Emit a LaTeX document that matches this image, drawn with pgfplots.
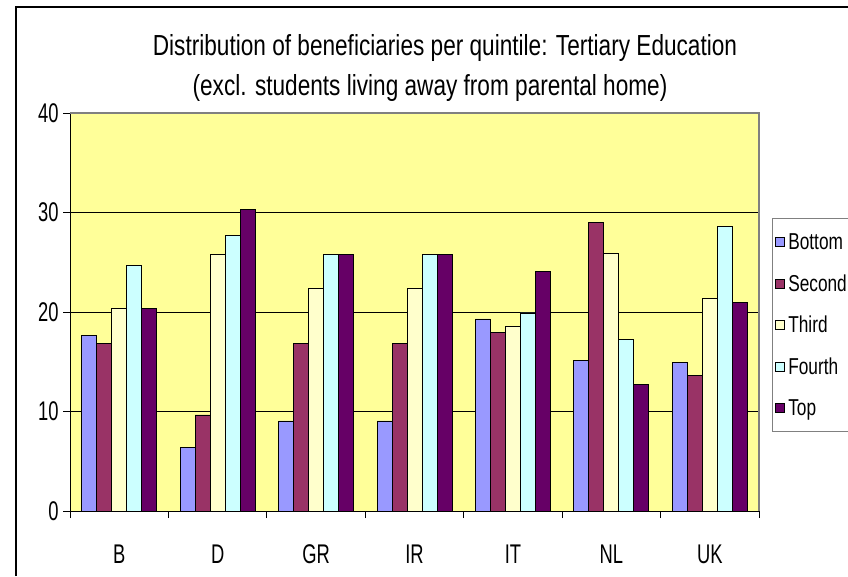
\documentclass[border=0pt]{standalone}
\usepackage{pgfplots}
\pgfplotsset{compat=1.18}
\usepackage{fontspec}
\setmainfont{Liberation Sans}
\newfontfamily\tickfont{Liberation Sans}[FakeStretch=0.68]
\newfontfamily\titlefont{Liberation Sans}[FakeStretch=0.78]
\newfontfamily\legfont{Liberation Sans}[FakeStretch=0.75]
\definecolor{cBottom}{HTML}{9999FF}
\definecolor{cSecond}{HTML}{993366}
\definecolor{cThird}{HTML}{FFFFCC}
\definecolor{cFourth}{HTML}{CCFFFF}
\definecolor{cTop}{HTML}{660066}
\definecolor{plotbg}{HTML}{FFFF99}
\begin{document}
\begin{tikzpicture}[x=1pt,y=1pt]
\useasboundingbox (0,0) rectangle (848,576);
\draw[black, line width=1.2pt] (16,0) -- (16,569) -- (860,569);
\begin{axis}[
  at={(70pt,65pt)}, anchor=south west,
  scale only axis, width=689pt, height=398pt,
  ybar=0pt, bar width=15pt,
  xmin=-0.5, xmax=6.5, ymin=0, ymax=40,
  axis x line=bottom, axis y line=left,
  axis line style={-, black, line width=1pt},
  axis background/.style={fill=plotbg},
  /pgf/number format/assume math mode=true,
  xtick={0,...,6},
  xticklabels={B,D,GR,IR,IT,NL,UK},
  major x tick style={draw=none},
  minor xtick={-0.5,0.5,...,6.5},
  minor x tick style={black, line width=0.8pt},
  minor tick length=7pt,
  ytick={0,10,20,30,40},
  major tick length=7pt,
  y tick style={black, line width=0.8pt},
  tick align=outside,
  ymajorgrids, grid style={black, line width=0.8pt},
  yticklabel style={font=\tickfont\fontsize{27}{29}\selectfont, anchor=east, xshift=-1pt},
  xticklabel style={font=\tickfont\fontsize{27}{29}\selectfont, anchor=north, yshift=-23pt},
  every axis plot/.append style={draw=black, line width=0.9pt},
  legend style={at={(1.0189,0.736)}, anchor=north west, draw=gray, line width=1pt,
    font=\legfont\fontsize{23}{25}\selectfont, row sep=19.5pt, inner xsep=2pt, inner ysep=13pt,
    legend cell align=left, nodes={inner xsep=4pt}},
  legend image code/.code={\draw[#1, draw=black, line width=0.8pt] (0pt,-4.5pt) rectangle (9pt,4.5pt);},
  clip=false,
]
\addplot[fill=cBottom] coordinates {(0,17.6) (1,6.4) (2,9.05) (3,9.05) (4,19.3) (5,15.1) (6,14.9)};
\addplot[fill=cSecond] coordinates {(0,16.8) (1,9.65) (2,16.8) (3,16.8) (4,17.95) (5,29.0) (6,13.6)};
\addplot[fill=cThird] coordinates {(0,20.4) (1,25.8) (2,22.35) (3,22.35) (4,18.5) (5,25.9) (6,21.4)};
\addplot[fill=cFourth] coordinates {(0,24.65) (1,27.7) (2,25.8) (3,25.8) (4,19.9) (5,17.2) (6,28.6)};
\addplot[fill=cTop] coordinates {(0,20.4) (1,30.35) (2,25.8) (3,25.8) (4,24.05) (5,12.7) (6,21.0)};
\legend{Bottom,Second,Third,Fourth,Top}
\draw[gray, line width=1.5pt] (rel axis cs:0,1) -- (rel axis cs:1,1) -- (rel axis cs:1,0);
\end{axis}
\node[font=\titlefont\fontsize{29}{31}\selectfont] at (445,528) {Distribution of beneficiaries per quintile: Tertiary Education};
\node[font=\titlefont\fontsize{29}{31}\selectfont] at (430,488) {(excl. students living away from parental home)};
\end{tikzpicture}
\end{document}
